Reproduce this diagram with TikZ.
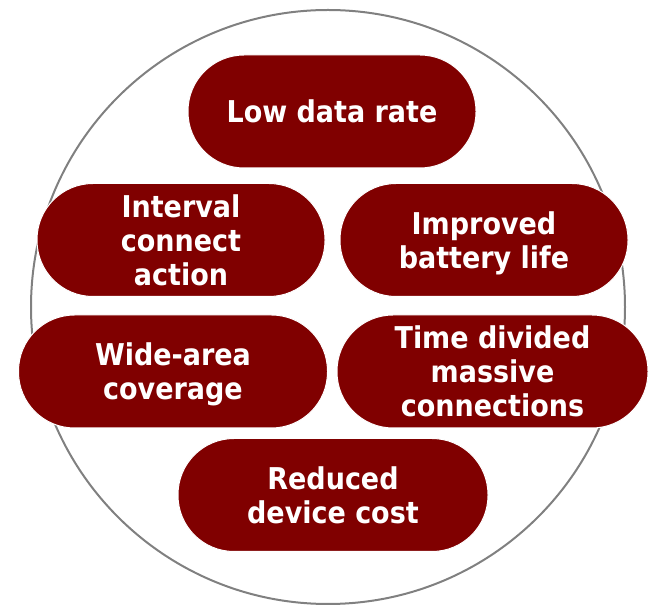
\documentclass[tikz,border=0pt]{standalone}
\usepackage{fontspec}
\newfontfamily\pillfont{DejaVu Sans Condensed Bold}
\definecolor{pillred}{RGB}{128,0,0}
\definecolor{ringgray}{RGB}{128,128,128}
\begin{document}
\begin{tikzpicture}[x=1pt,y=-1pt,
  pill/.style={draw=white, line width=1pt, fill=pillred, rounded corners=56pt,
    text=white, font=\pillfont\fontsize{30}{34}\selectfont, align=center,
    inner sep=0pt, minimum height=113pt, text depth=0pt}]
\useasboundingbox (0,0) rectangle (649,609);
\node[draw=ringgray, line width=2pt, circle, minimum size=594pt, inner sep=0pt] (ring) at (328,307) {};
\node[pill, minimum width=288pt] (low) at (332,111.5) {Low data rate};
\node[pill, minimum width=288pt] (interval) at (181,240) {Interval\\connect\\action};
\node[pill, minimum width=288pt] (battery) at (484,240) {Improved\\battery life};
\node[pill, minimum width=309pt] (wide) at (173,371.5) {Wide-area\\coverage};
\node[pill, minimum width=311pt] (time) at (492.5,371.5) {Time divided\\massive\\connections};
\node[pill, minimum width=310pt] (cost) at (333,495) {Reduced\\device cost};
\end{tikzpicture}
\end{document}
